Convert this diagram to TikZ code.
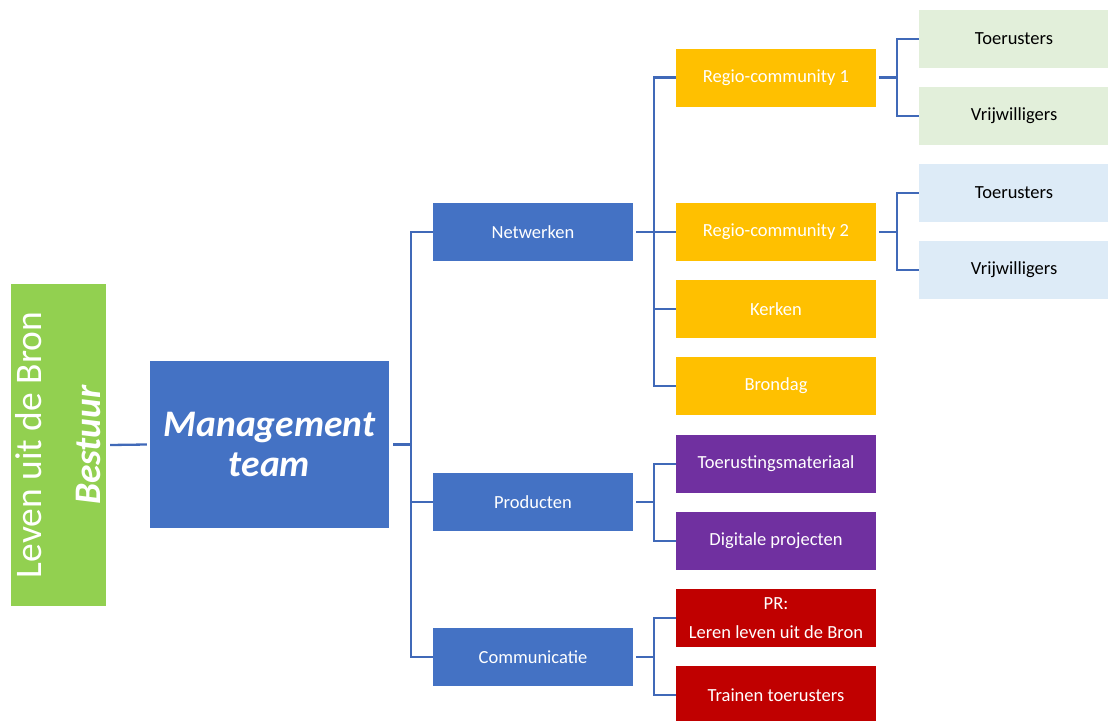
\documentclass[tikz,border=0pt]{standalone}
\usepackage{fontspec}
\setmainfont{Carlito}
\definecolor{cgreen}{HTML}{92D050}
\definecolor{cblue}{HTML}{4472C4}
\definecolor{cgold}{HTML}{FFC000}
\definecolor{cpurple}{HTML}{7030A0}
\definecolor{cred}{HTML}{C00000}
\definecolor{lgreen}{HTML}{E2EFDA}
\definecolor{lblue}{HTML}{DDEBF7}
\definecolor{cline}{HTML}{4069B8}
\tikzset{
  box/.style={draw=none, inner sep=0pt, minimum width=200pt, minimum height=58pt, align=center, text=white, font=\fontsize{18.5}{22}\selectfont},
  lbox/.style={box, text=black, minimum width=190pt},
  conn/.style={draw=cline, line width=2.3pt}
}
\begin{document}
\begin{tikzpicture}[x=1pt,y=-1pt]
\useasboundingbox (0,0) rectangle (1108,720);
\clip (0,0) rectangle (1108,720);
% main boxes
\node[box, fill=cgreen, minimum width=95pt, minimum height=322pt] (bst) at (58.5,445) {};
\node[rotate=90, text=white, align=center, font=\fontsize{37.5}{59}\selectfont] (bsttxt) at (58.5,445) {Leven uit de Bron\\\textbf{\textit{Bestuur}}};
\node[box, fill=cblue, minimum width=239pt, minimum height=167pt, font=\fontsize{37.5}{40}\selectfont\bfseries\itshape] (mt) at (269.5,444.5) {Management\\team};
% level 2
\node[box, fill=cblue] (net) at (533,232) {Netwerken};
\node[box, fill=cblue] (prod) at (533,502) {Producten};
\node[box, fill=cblue] (comm) at (533,657) {Communicatie};
% level 3
\node[box, fill=cgold] (r1) at (776,77.5) {Regio-community 1};
\node[box, fill=cgold] (r2) at (776,232) {Regio-community 2};
\node[box, fill=cgold] (ker) at (776,309) {Kerken};
\node[box, fill=cgold] (bron) at (776,386) {Brondag};
\node[box, fill=cpurple] (toe) at (776,464) {Toerustingsmateriaal};
\node[box, fill=cpurple] (dig) at (776,541) {Digitale projecten};
\node[box, fill=cred, font=\fontsize{18.5}{29}\selectfont] (pr) at (776,618) {PR:\\Leren leven uit de Bron};
\node[box, fill=cred] (tr) at (776,695) {Trainen toerusters};
% level 4
\node[lbox, fill=lgreen] (t1) at (1014,39) {Toerusters};
\node[lbox, fill=lgreen] (v1) at (1014,116) {Vrijwilligers};
\node[lbox, fill=lblue] (t2) at (1014,193) {Toerusters};
\node[lbox, fill=lblue] (v2) at (1014,270) {Vrijwilligers};
% connectors
\draw[conn] ([xshift=4pt]bst.east) -- ([xshift=-3pt]mt.west);
\coordinate (s1) at (411,444.5);
\draw[conn] ([xshift=4pt]mt.east) -- (s1);
\draw[conn] (s1) |- (net.west);
\draw[conn] (s1) |- (prod.west);
\draw[conn] (s1) |- (comm.west);
\coordinate (s2) at (654,232);
\draw[conn] ([xshift=3pt]net.east) -- (s2);
\draw[conn] (s2) |- (r1.west);
\draw[conn] (s2) -- (r2.west);
\draw[conn] (s2) |- (ker.west);
\draw[conn] (s2) |- (bron.west);
\coordinate (s3) at (654,502);
\draw[conn] ([xshift=3pt]prod.east) -- (s3);
\draw[conn] (s3) |- (toe.west);
\draw[conn] (s3) |- (dig.west);
\coordinate (s4) at (654,657);
\draw[conn] ([xshift=3pt]comm.east) -- (s4);
\draw[conn] (s4) |- (pr.west);
\draw[conn] (s4) |- (tr.west);
\coordinate (s5) at (897,77.5);
\draw[conn] ([xshift=3pt]r1.east) -- (s5);
\draw[conn] (s5) |- (t1.west);
\draw[conn] (s5) |- (v1.west);
\coordinate (s6) at (897,232);
\draw[conn] ([xshift=3pt]r2.east) -- (s6);
\draw[conn] (s6) |- (t2.west);
\draw[conn] (s6) |- (v2.west);
\end{tikzpicture}
\end{document}
